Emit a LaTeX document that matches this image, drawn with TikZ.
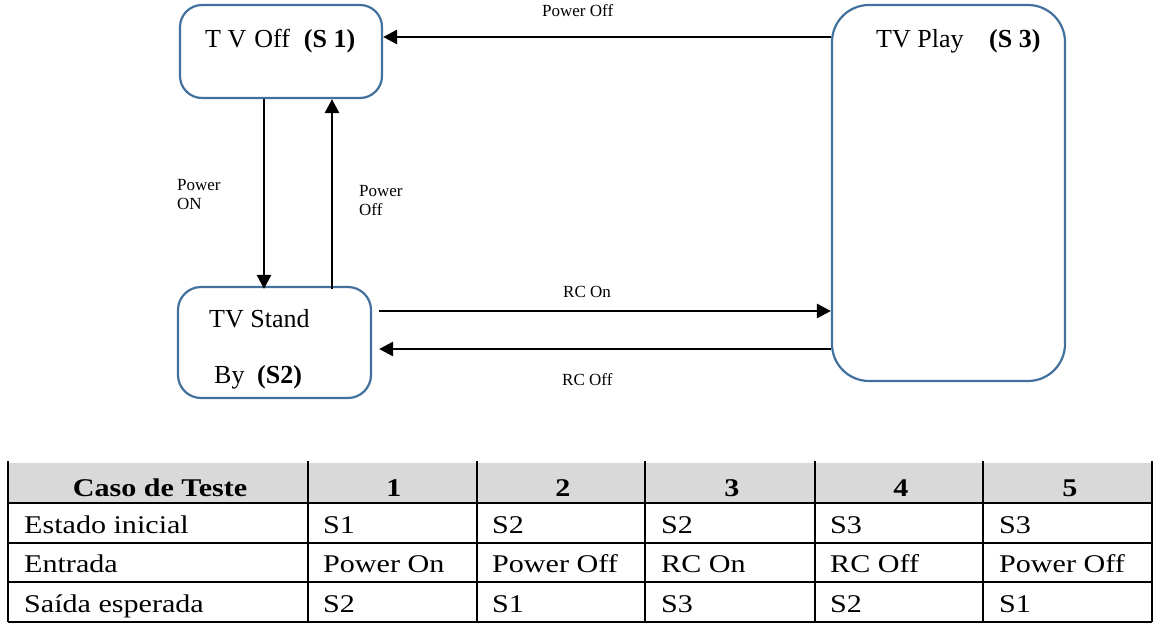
\documentclass[tikz,border=0pt]{standalone}
\usepackage{fontspec}
\setmainfont{Liberation Serif}
\newfontfamily\tabfont[FakeStretch=1.18]{Liberation Serif}
\usetikzlibrary{arrows.meta}
\definecolor{boxblue}{RGB}{65,113,156}
\definecolor{headgray}{RGB}{217,217,217}
\tikzset{
  statebox/.style={draw=boxblue, line width=2.2pt, rectangle, fill=white, inner sep=0pt},
  arr/.style={line width=2.8pt, -{Triangle[length=14pt,width=14pt]}},
  bigtxt/.style={anchor=base west, inner sep=0pt, font=\fontsize{26}{30}\selectfont},
  smalltxt/.style={anchor=base west, inner sep=0pt, font=\fontsize{17}{20}\selectfont},
  tabtxt/.style={anchor=base west, inner sep=0pt, font=\tabfont\fontsize{25.5}{30}\selectfont},
  tabhead/.style={anchor=base, inner sep=0pt, font=\tabfont\bfseries\fontsize{25.5}{30}\selectfont},
  gridline/.style={line width=1.1pt, black}
}
\begin{document}
\begin{tikzpicture}[x=1pt,y=-1pt]
\useasboundingbox (0,0) rectangle (1158,626);

% state boxes
\node[statebox, rounded corners=22pt, minimum width=202pt, minimum height=93pt] (S1) at (281,51.5) {};
\node[statebox, rounded corners=37pt, minimum width=233pt, minimum height=376pt] (S3) at (948.5,193) {};
\node[statebox, rounded corners=23pt, minimum width=193pt, minimum height=111pt] (S2) at (274.5,342.5) {};

% state texts
\node[bigtxt] (t1) at (205,48) {T V\hspace{8pt}Off\hspace{14pt}\textbf{(S 1)}};
\node[bigtxt] (t3a) at (876,48) {TV Play};
\node[bigtxt] (t3b) at (989,48) {\textbf{(S 3)}};
\node[bigtxt] (t2a) at (209,327) {TV Stand};
\node[bigtxt] (t2b) at (214,383) {By};
\node[bigtxt] (t2c) at (257,383) {\textbf{(S2)}};

% helper coordinates
\coordinate (ytop) at (0,37);
\coordinate (xdown) at (264,0);
\coordinate (xup) at (332,0);
\coordinate (yrcon) at (0,311);
\coordinate (yrcoff) at (0,349);
\coordinate (s2r) at ([xshift=7pt]S2.east);
\coordinate (s2top) at ([yshift=-3pt]S2.north);

% connectors
\draw[arr] (S3.west |- ytop) -- (S1.east |- ytop);
\draw[arr] (S1.south -| xdown) -- (s2top -| xdown);
\draw[arr] (s2top -| xup) -- (S1.south -| xup);
\draw[arr] (s2r |- yrcon) -- (S3.west |- yrcon);
\draw[arr] (S3.west |- yrcoff) -- (s2r |- yrcoff);

% connector labels
\node[smalltxt] (l1) at (542,17) {Power Off};
\node[smalltxt] (l2a) at (177,190) {Power};
\node[smalltxt] (l2b) at (177,209) {ON};
\node[smalltxt] (l3a) at (359,196) {Power};
\node[smalltxt] (l3b) at (359,215) {Off};
\node[smalltxt] (l4) at (563,297) {RC On};
\node[smalltxt] (l5) at (562,385) {RC Off};

% table
\fill[headgray] (8,463) rectangle (1152,503);
\foreach \yy in {503,543,582,622} \draw[gridline] (8,\yy) -- (1152,\yy);
\foreach \xx in {8,308,477,645,815,983,1152} \draw[gridline] (\xx,461) -- (\xx,622);

\node[tabhead] (h0) at (160,496) {Caso de Teste};
\node[tabhead] (h1) at (394,496) {1};
\node[tabhead] (h2) at (563,496) {2};
\node[tabhead] (h3) at (732,496) {3};
\node[tabhead] (h4) at (901,496) {4};
\node[tabhead] (h5) at (1070,496) {5};

\node[tabtxt] (r1c0) at (24,533) {Estado inicial};
\node[tabtxt] (r1c1) at (323,533) {S1};
\node[tabtxt] (r1c2) at (492,533) {S2};
\node[tabtxt] (r1c3) at (661,533) {S2};
\node[tabtxt] (r1c4) at (830,533) {S3};
\node[tabtxt] (r1c5) at (999,533) {S3};

\node[tabtxt] (r2c0) at (24,572) {Entrada};
\node[tabtxt] (r2c1) at (323,572) {Power On};
\node[tabtxt] (r2c2) at (492,572) {Power Off};
\node[tabtxt] (r2c3) at (661,572) {RC On};
\node[tabtxt] (r2c4) at (830,572) {RC Off};
\node[tabtxt] (r2c5) at (999,572) {Power Off};

\node[tabtxt] (r3c0) at (24,612) {Saída esperada};
\node[tabtxt] (r3c1) at (323,612) {S2};
\node[tabtxt] (r3c2) at (492,612) {S1};
\node[tabtxt] (r3c3) at (661,612) {S3};
\node[tabtxt] (r3c4) at (830,612) {S2};
\node[tabtxt] (r3c5) at (999,612) {S1};
\end{tikzpicture}
\end{document}
